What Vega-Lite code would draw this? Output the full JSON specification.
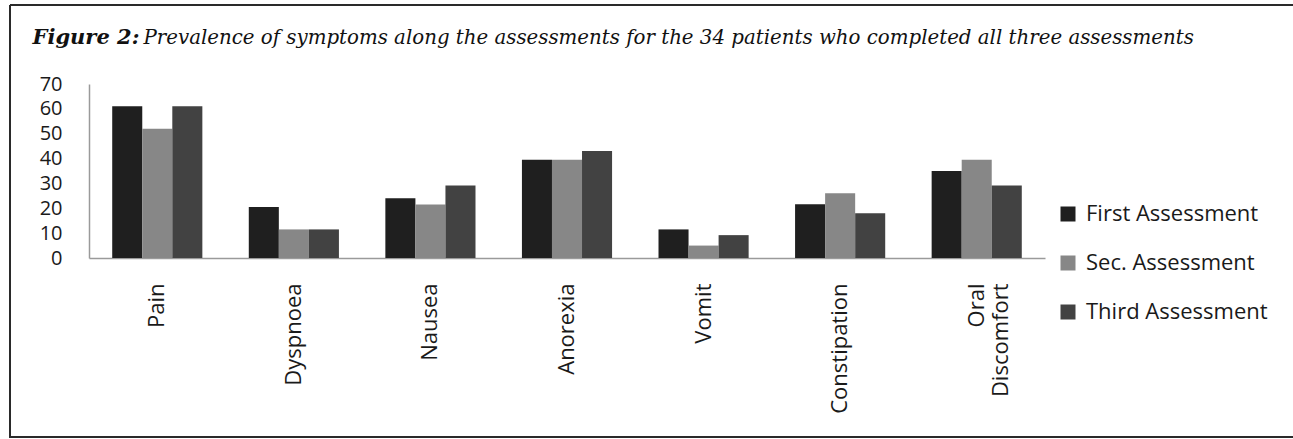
{
  "$schema": "https://vega.github.io/schema/vega-lite/v6.json",
  "autosize": {"type": "pad"},
  "padding": {"left": 9, "top": 4, "right": 0, "bottom": 2},
  "background": "white",
  "config": {
    "view": {"stroke": "#2a2a2a", "strokeWidth": 2, "strokeDash": [1283, 432, 1715, 0]},
    "style": {"cell": {"strokeDash": [1283, 432, 1715, 0]}},
    "axis": {"labelFont": "Open Sans", "labelColor": "#1a1a1a", "grid": false, "ticks": false, "tickSize": 0, "domainColor": "#9a9a9a", "domainWidth": 1.5}
  },
  "data": {
    "values": [
      {"symptom": "Pain", "assessment": "First Assessment", "value": 61},
      {"symptom": "Pain", "assessment": "Sec. Assessment", "value": 52},
      {"symptom": "Pain", "assessment": "Third Assessment", "value": 61},
      {"symptom": "Dyspnoea", "assessment": "First Assessment", "value": 20.5},
      {"symptom": "Dyspnoea", "assessment": "Sec. Assessment", "value": 11.5},
      {"symptom": "Dyspnoea", "assessment": "Third Assessment", "value": 11.5},
      {"symptom": "Nausea", "assessment": "First Assessment", "value": 24},
      {"symptom": "Nausea", "assessment": "Sec. Assessment", "value": 21.5},
      {"symptom": "Nausea", "assessment": "Third Assessment", "value": 29.2},
      {"symptom": "Anorexia", "assessment": "First Assessment", "value": 39.5},
      {"symptom": "Anorexia", "assessment": "Sec. Assessment", "value": 39.5},
      {"symptom": "Anorexia", "assessment": "Third Assessment", "value": 43},
      {"symptom": "Vomit", "assessment": "First Assessment", "value": 11.5},
      {"symptom": "Vomit", "assessment": "Sec. Assessment", "value": 5},
      {"symptom": "Vomit", "assessment": "Third Assessment", "value": 9.2},
      {"symptom": "Constipation", "assessment": "First Assessment", "value": 21.6},
      {"symptom": "Constipation", "assessment": "Sec. Assessment", "value": 26},
      {"symptom": "Constipation", "assessment": "Third Assessment", "value": 18},
      {"symptom": "Oral Discomfort", "assessment": "First Assessment", "value": 35},
      {"symptom": "Oral Discomfort", "assessment": "Sec. Assessment", "value": 39.5},
      {"symptom": "Oral Discomfort", "assessment": "Third Assessment", "value": 29.2}
    ]
  },
  "vconcat": [
    {
      "width": 1283,
      "height": 432,
      "mark": {"type": "bar"},
      "encoding": {
        "x": {
          "field": "symptom",
          "type": "nominal",
          "sort": null,
          "scale": {"range": [79, 1035], "paddingInner": 0.34, "paddingOuter": 0.17},
          "axis": {
            "orient": "bottom",
            "offset": -179,
            "labelAngle": 270,
            "labelAlign": "right",
            "labelBaseline": "middle",
            "labelPadding": 25,
            "labelFontSize": 22,
            "labelExpr": "datum.label == 'Oral Discomfort' ? ['Oral', 'Discomfort'] : datum.label",
            "title": "Prevalence of symptoms along the assessments for the 34 patients who completed all three assessments",
            "titleX": 133,
            "titleY": -215,
            "titleAlign": "left",
            "titleBaseline": "alphabetic",
            "titleAngle": 0,
            "titleFont": "DejaVu Serif",
            "titleFontStyle": "italic",
            "titleFontWeight": "normal",
            "titleFontSize": 19.8,
            "titleColor": "#111"
          }
        },
        "xOffset": {
          "field": "assessment",
          "type": "nominal",
          "sort": ["First Assessment", "Sec. Assessment", "Third Assessment"]
        },
        "y": {
          "field": "value",
          "type": "quantitative",
          "scale": {"domain": [0, 70], "range": [253, 79], "nice": false},
          "axis": {
            "offset": -79,
            "values": [0, 10, 20, 30, 40, 50, 60, 70],
            "labelPadding": 27,
            "labelFontSize": 20,
            "labelBaseline": "middle",
            "title": "Figure 2:",
            "titleX": -57,
            "titleY": 38,
            "titleAngle": 0,
            "titleAlign": "left",
            "titleBaseline": "alphabetic",
            "titleFont": "DejaVu Serif",
            "titleFontStyle": "italic",
            "titleFontWeight": "bold",
            "titleFontSize": 21,
            "titleColor": "#111"
          }
        },
        "color": {
          "field": "assessment",
          "type": "nominal",
          "sort": ["First Assessment", "Sec. Assessment", "Third Assessment"],
          "scale": {"domain": ["First Assessment", "Sec. Assessment", "Third Assessment"], "range": ["#1f1f1f", "#878787", "#424242"]},
          "legend": {
            "orient": "none",
            "legendX": 1047,
            "legendY": 198,
            "title": null,
            "padding": 0,
            "symbolType": "square",
            "symbolSize": 225,
            "symbolStrokeWidth": 0,
            "labelFont": "Open Sans",
            "labelFontSize": 22,
            "labelColor": "#1a1a1a",
            "labelOffset": 7,
            "labelLimit": 0,
            "rowPadding": 27
          }
        }
      }
    }
  ]
}
